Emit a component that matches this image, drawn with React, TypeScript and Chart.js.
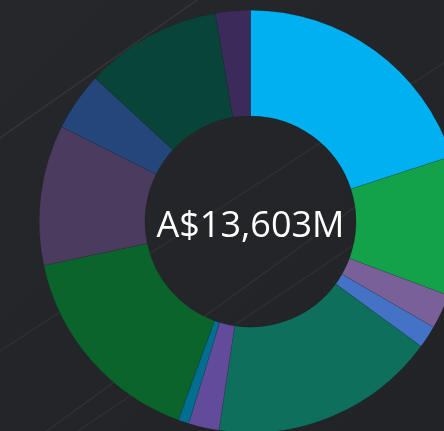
import React, { useEffect, useRef } from "react";
import { Chart, registerables } from "chart.js";

Chart.register(...registerables);

const categories = [
  "Segment 1", "Segment 2", "Segment 3", "Segment 4", "Segment 5", "Segment 6",
  "Segment 7", "Segment 8", "Segment 9", "Segment 10", "Segment 11", "Segment 12",
];
const values = [2721, 1455, 359, 234, 2358, 317, 113, 2192, 1459, 608, 1424, 363];
const colors = [
  "#00b0f0", "#13a14a", "#7a6098", "#4472c4", "#0e6f5d", "#614b9a",
  "#006e90", "#0b642c", "#4a3b5f", "#24467a", "#084438", "#3b2b5b",
];
const centerLabel = "A$13,603M";

const centerTextPlugin = {
  id: "centerText",
  afterDraw(chart: any) {
    const meta = chart.getDatasetMeta(0);
    const arc = meta.data[0];
    if (!arc) return;
    const { x, y } = arc;
    const ctx = chart.ctx;
    ctx.save();
    ctx.fillStyle = "#ffffff";
    ctx.font = "500 36px 'Open Sans'";
    ctx.textAlign = "center";
    ctx.textBaseline = "alphabetic";
    ctx.fillText(centerLabel, x, y + 15);
    ctx.restore();
  },
};

export default function App() {
  const ref = useRef<HTMLCanvasElement | null>(null);
  useEffect(() => {
    if (!ref.current) return;
    const chart = new Chart(ref.current, {
      type: "doughnut",
      data: {
        labels: categories,
        datasets: [
          {
            data: values,
            backgroundColor: colors,
            borderColor: "rgba(20,20,30,0.25)",
            borderWidth: 0.5,
          },
        ],
      },
      options: {
        responsive: false,
        animation: false,
        cutout: "50%",
        layout: { padding: 0 },
        plugins: {
          legend: { display: false },
          tooltip: { enabled: false },
        },
      },
      plugins: [centerTextPlugin],
    });
    return () => chart.destroy();
  }, []);

  return (
    <div
      style={{
        position: "fixed",
        left: 0,
        top: 0,
        width: 444,
        height: 431,
        overflow: "hidden",
        background:
          "linear-gradient(145deg, transparent 18.4%, rgba(255,255,255,0.08) 18.6%, transparent 18.8%)," +
          "linear-gradient(147deg, transparent 48.6%, rgba(255,255,255,0.05) 48.8%, transparent 49.0%)," +
          "linear-gradient(144deg, transparent 61.5%, rgba(255,255,255,0.06) 61.7%, transparent 61.9%)," +
          "linear-gradient(146deg, transparent 66%, rgba(255,255,255,0.05) 66.2%, transparent 66.4%)," +
          "linear-gradient(135deg, #25272b 0%, #212327 100%)",
      }}
    >
      <canvas
        ref={ref}
        width={423}
        height={423}
        style={{ position: "absolute", left: 38.5, top: 9.5, width: 423, height: 423 }}
      />
    </div>
  );
}
